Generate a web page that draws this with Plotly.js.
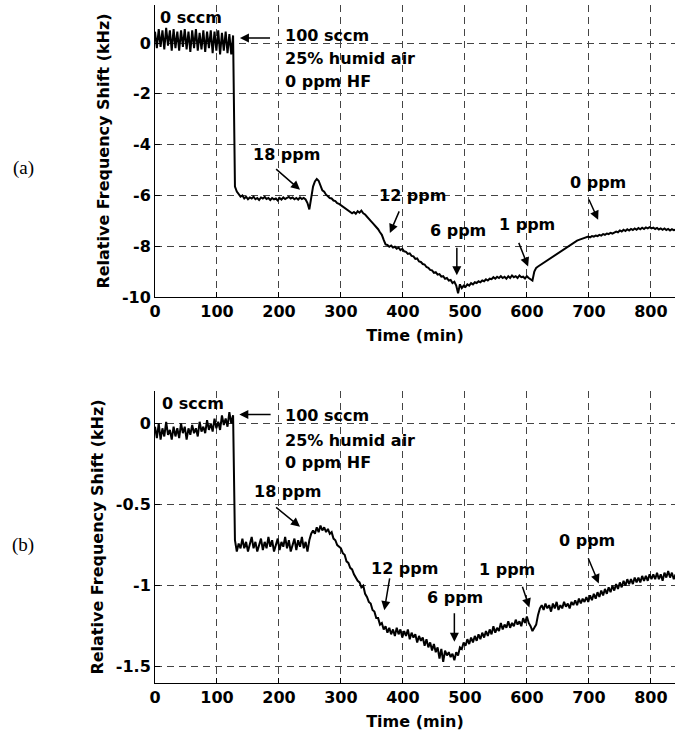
<!DOCTYPE html>
<html>
<head>
<meta charset="utf-8">
<script src="https://cdn.plot.ly/plotly-3.0.1.min.js"></script>
<style>html,body{margin:0;padding:0;background:#fff;}#chart{width:675px;height:731px;}</style>
</head>
<body>
<div id="chart"></div>
<script>
// Time axis: samples every 3 min starting at 0 min
const sampleStart = 0;
const sampleStep = 3;

// (a) relative frequency shift, kHz
const shiftA = [
  0.45, -0.2, 0.55, -0.15, 0.5, -0.25, 0.6, -0.1, 0.5, -0.3,
  0.55, -0.2, 0.45, -0.3, 0.5, -0.15, 0.55, -0.25, 0.45, -0.35,
  0.5, -0.2, 0.55, -0.3, 0.4, -0.25, 0.5, -0.35, 0.45, -0.2,
  0.5, -0.4, 0.45, -0.3, 0.5, -0.45, 0.4, -0.3, 0.45, -0.4,
  0.35, -0.45, 0.3, -5.65, -5.85, -5.95, -6.05, -6.0, -6.12, -6.05,
  -6.15, -6.08, -6.12, -6.05, -6.15, -6.1, -6.18, -6.08, -6.12, -6.06,
  -6.14, -6.1, -6.18, -6.1, -6.15, -6.12, -6.2, -6.1, -6.16, -6.08,
  -6.14, -6.1, -6.06, -6.12, -6.08, -6.15, -6.1, -6.16, -6.08, -6.14,
  -6.1, -6.16, -6.3, -6.55, -6.05, -5.65, -5.45, -5.35, -5.42, -5.65,
  -5.8, -5.85, -5.97, -6.03, -6.1, -6.12, -6.2, -6.22, -6.3, -6.33,
  -6.38, -6.45, -6.5, -6.52, -6.6, -6.63, -6.7, -6.65, -6.72, -6.62,
  -6.68, -6.6, -6.7, -6.75, -6.82, -6.9, -7.0, -7.08, -7.15, -7.25,
  -7.33, -7.45, -7.55, -7.75, -7.93, -7.95, -8.02, -7.97, -8.05, -8.02,
  -8.1, -8.05, -8.15, -8.1, -8.2, -8.22, -8.3, -8.28, -8.38, -8.4,
  -8.5, -8.48, -8.6, -8.62, -8.7, -8.72, -8.82, -8.85, -8.93, -8.95,
  -9.05, -9.02, -9.12, -9.1, -9.2, -9.18, -9.28, -9.25, -9.35, -9.33,
  -9.45, -9.4, -9.55, -9.85, -9.5, -9.65, -9.55, -9.6, -9.5, -9.55,
  -9.45, -9.5, -9.42, -9.45, -9.38, -9.42, -9.35, -9.38, -9.3, -9.35,
  -9.28, -9.3, -9.22, -9.28, -9.2, -9.25, -9.18, -9.25, -9.2, -9.28,
  -9.18, -9.25, -9.15, -9.22, -9.18, -9.25, -9.15, -9.22, -9.2, -9.27,
  -9.18, -9.25, -9.3, -9.35, -9.0, -8.85, -8.8, -8.75, -8.72, -8.65,
  -8.62, -8.55, -8.52, -8.45, -8.42, -8.35, -8.32, -8.25, -8.2, -8.15,
  -8.1, -8.05, -8.0, -7.95, -7.9, -7.85, -7.82, -7.78, -7.75, -7.72,
  -7.7, -7.68, -7.65, -7.62, -7.65, -7.6, -7.62, -7.58, -7.6, -7.55,
  -7.58, -7.52, -7.55, -7.5, -7.52, -7.47, -7.5, -7.45, -7.42, -7.45,
  -7.38, -7.42, -7.35, -7.4, -7.33, -7.38, -7.32, -7.36, -7.3, -7.35,
  -7.28, -7.33, -7.27, -7.32, -7.26, -7.3, -7.25, -7.3, -7.27, -7.32,
  -7.28, -7.34, -7.3, -7.35, -7.3, -7.36, -7.32, -7.38, -7.33, -7.37,
  -7.35
];

// (b) relative frequency shift, kHz
const shiftB = [
  -0.02, -0.09, 0.0, -0.1, -0.03, -0.08, 0.01, -0.07, -0.04, -0.1,
  -0.02, -0.08, -0.03, -0.09, 0.0, -0.06, -0.02, -0.1, -0.03, -0.07,
  -0.01, -0.06, -0.03, -0.08, 0.01, -0.05, -0.02, -0.06, 0.02, -0.04,
  0.0, -0.05, 0.03, -0.03, 0.01, -0.04, 0.05, -0.01, 0.03, -0.02,
  0.07, 0.0, 0.05, -0.72, -0.79, -0.74, -0.77, -0.71, -0.77, -0.73,
  -0.79, -0.74, -0.7, -0.77, -0.73, -0.79, -0.74, -0.71, -0.78, -0.73,
  -0.77, -0.7, -0.76, -0.72, -0.79, -0.74, -0.71, -0.78, -0.73, -0.76,
  -0.7, -0.77, -0.72, -0.79, -0.74, -0.71, -0.78, -0.72, -0.76, -0.7,
  -0.77, -0.73, -0.79, -0.72, -0.68, -0.66, -0.68, -0.64, -0.67, -0.63,
  -0.66, -0.64, -0.67, -0.65, -0.68, -0.67, -0.71, -0.72, -0.75, -0.76,
  -0.77, -0.8, -0.81, -0.85, -0.86, -0.89, -0.9, -0.93, -0.95, -0.97,
  -0.98, -1.01, -1.0, -1.05, -1.07, -1.1, -1.11, -1.15, -1.16, -1.2,
  -1.2, -1.24, -1.23, -1.27, -1.25, -1.29, -1.26, -1.3, -1.27, -1.31,
  -1.26, -1.3, -1.27, -1.32, -1.28, -1.31, -1.27, -1.33, -1.29, -1.32,
  -1.3, -1.35, -1.31, -1.34, -1.32, -1.37, -1.33, -1.38, -1.35, -1.4,
  -1.36, -1.41, -1.38, -1.45, -1.39, -1.47, -1.4, -1.43, -1.41, -1.44,
  -1.42, -1.46, -1.41, -1.43, -1.38, -1.39, -1.35, -1.37, -1.33, -1.36,
  -1.32, -1.35, -1.31, -1.34, -1.3, -1.33, -1.29, -1.32, -1.28, -1.31,
  -1.27, -1.3, -1.25, -1.29, -1.26, -1.28, -1.23, -1.27, -1.24, -1.26,
  -1.22, -1.26, -1.23, -1.25, -1.21, -1.24, -1.22, -1.25, -1.2, -1.23,
  -1.19, -1.23, -1.25, -1.28, -1.26, -1.24, -1.18, -1.14, -1.12, -1.15,
  -1.11, -1.14, -1.12, -1.16, -1.11, -1.14, -1.1, -1.15, -1.12, -1.14,
  -1.1, -1.13, -1.11, -1.14, -1.1, -1.12, -1.09, -1.12, -1.08, -1.11,
  -1.08, -1.1, -1.07, -1.1, -1.06, -1.09, -1.05, -1.08, -1.04, -1.07,
  -1.03, -1.06, -1.02, -1.05, -1.01, -1.04, -1.0, -1.03, -0.99, -1.02,
  -0.98, -1.01, -0.97, -1.0, -0.96, -0.99, -0.96, -0.99, -0.95, -0.98,
  -0.95, -0.98, -0.94, -0.97, -0.94, -0.97, -0.93, -0.96, -0.93, -0.96,
  -0.92, -0.96, -0.93, -0.97, -0.92, -0.95, -0.91, -0.95, -0.92, -0.96,
  -0.93
];

// Tick values and labels
const xTickVals = [0, 100, 200, 300, 400, 500, 600, 700, 800];
const yTickValsA = [-10, -8, -6, -4, -2, 0];
const yTickTextA = ['-10', '-8', '-6', '-4', '-2', '0'];
const yTickValsB = [-1.5, -1, -0.5, 0];
const yTickTextB = ['-1.5', '-1', '-0.5', '0'];

// Text labels
const xTitle = 'Time (min)';
const yTitle = 'Relative Frequency Shift (kHz)';
const flowLabels = ['0 sccm', '100 sccm', '25% humid air', '0 ppm HF'];
const concLabels = ['18 ppm', '12 ppm', '6 ppm', '1 ppm', '0 ppm'];
const panelLabels = ['(a)', '(b)'];

const boldFont = {family: 'DejaVu Sans, Arial, sans-serif', size: 16, color: '#000', weight: 'bold'};

function axisX(anchor) {
  return {
    anchor: anchor, domain: [0, 1], range: [0, 839],
    tickmode: 'array', tickvals: xTickVals, ticktext: xTickVals.map(String),
    ticks: 'inside', ticklen: 5, tickcolor: '#000',
    showline: true, linecolor: '#000', linewidth: 1, mirror: false,
    showgrid: true, gridcolor: '#444', gridwidth: 1, griddash: '7px,5px',
    zeroline: false, tickfont: boldFont,
    title: {text: xTitle, font: boldFont, standoff: 9}
  };
}
function axisY(anchor, domain, range, vals, text) {
  return {
    anchor: anchor, domain: domain, range: range,
    tickmode: 'array', tickvals: vals, ticktext: text,
    ticks: 'inside', ticklen: 5, tickcolor: '#000',
    showline: true, linecolor: '#000', linewidth: 1, mirror: false,
    showgrid: true, gridcolor: '#444', gridwidth: 1, griddash: '7px,5px',
    zeroline: false, tickfont: boldFont,
    title: {text: yTitle, font: boldFont, standoff: 8}
  };
}

const traces = [
  {y: shiftA, x0: sampleStart, dx: sampleStep, xaxis: 'x', yaxis: 'y', mode: 'lines',
   line: {color: '#000', width: 2}, showlegend: false, hoverinfo: 'skip'},
  {y: shiftB, x0: sampleStart, dx: sampleStep, xaxis: 'x2', yaxis: 'y2', mode: 'lines',
   line: {color: '#000', width: 2}, showlegend: false, hoverinfo: 'skip'}
];

function txt(xr, yr, x, y, text, xanchor) {
  return {xref: xr, yref: yr, x: x, y: y, text: text, showarrow: false,
          xanchor: xanchor || 'center', yanchor: 'middle', font: boldFont};
}
function arr(xr, yr, tx, ty, hx, hy) {
  return {xref: xr, yref: yr, axref: xr, ayref: yr, x: hx, y: hy, ax: tx, ay: ty,
          text: '', showarrow: true, arrowhead: 2, arrowsize: 1.2, arrowwidth: 1.5,
          arrowcolor: '#000', standoff: 0, startstandoff: 0};
}

const annotations = [
  // panel (a)
  txt('x', 'y', 58, 1.0, flowLabels[0]),
  txt('x', 'y', 206, 0.31, flowLabels[1], 'left'),
  txt('x', 'y', 206, -0.6, flowLabels[2], 'left'),
  txt('x', 'y', 206, -1.5, flowLabels[3], 'left'),
  txt('x', 'y', 212, -4.38, concLabels[0]),
  txt('x', 'y', 415, -5.99, concLabels[1]),
  txt('x', 'y', 489, -7.37, concLabels[2]),
  txt('x', 'y', 601, -7.13, concLabels[3]),
  txt('x', 'y', 714, -5.48, concLabels[4]),
  arr('x', 'y', 188, 0.2, 137, 0.2),
  arr('x', 'y', 193, -4.91, 234, -5.78),
  arr('x', 'y', 395, -6.57, 379, -7.48),
  arr('x', 'y', 487, -8.0, 487, -9.14),
  arr('x', 'y', 586, -7.81, 602, -8.8),
  arr('x', 'y', 699, -6.1, 715, -6.96),
  // panel (b)
  txt('x2', 'y2', 62, 0.125, flowLabels[0]),
  txt('x2', 'y2', 206, 0.051, flowLabels[1], 'left'),
  txt('x2', 'y2', 206, -0.103, flowLabels[2], 'left'),
  txt('x2', 'y2', 206, -0.242, flowLabels[3], 'left'),
  txt('x2', 'y2', 213, -0.42, concLabels[0]),
  txt('x2', 'y2', 402, -0.892, concLabels[1]),
  txt('x2', 'y2', 484, -1.074, concLabels[2]),
  txt('x2', 'y2', 568, -0.901, concLabels[3]),
  txt('x2', 'y2', 697, -0.723, concLabels[4]),
  arr('x2', 'y2', 189, 0.055, 136, 0.055),
  arr('x2', 'y2', 193, -0.51, 234, -0.637),
  arr('x2', 'y2', 379, -0.946, 370, -1.151),
  arr('x2', 'y2', 483, -1.161, 483, -1.346),
  arr('x2', 'y2', 592, -0.997, 604, -1.134),
  arr('x2', 'y2', 698, -0.822, 716, -0.986),
  // panel labels
  {xref: 'paper', yref: 'paper', x: -0.2538, y: 0.7603, text: panelLabels[0], showarrow: false,
   xanchor: 'center', yanchor: 'middle', font: {family: 'Liberation Serif, Times New Roman, serif', size: 19, color: '#000'}},
  {xref: 'paper', yref: 'paper', x: -0.2538, y: 0.2035, text: panelLabels[1], showarrow: false,
   xanchor: 'center', yanchor: 'middle', font: {family: 'Liberation Serif, Times New Roman, serif', size: 19, color: '#000'}}
];

const layout = {
  width: 675, height: 731,
  margin: {l: 155, r: 0, t: 5, b: 48, pad: 0},
  paper_bgcolor: '#fff', plot_bgcolor: '#fff',
  showlegend: false,
  xaxis: axisX('y'),
  yaxis: axisY('x', [0.5693, 1], [-10, 1.5], yTickValsA, yTickTextA),
  xaxis2: axisX('y2'),
  yaxis2: axisY('x2', [0, 0.4307], [-1.6, 0.2], yTickValsB, yTickTextB),
  annotations: annotations
};

Plotly.newPlot('chart', traces, layout, {displayModeBar: false, staticPlot: true});
</script>
</body>
</html>
